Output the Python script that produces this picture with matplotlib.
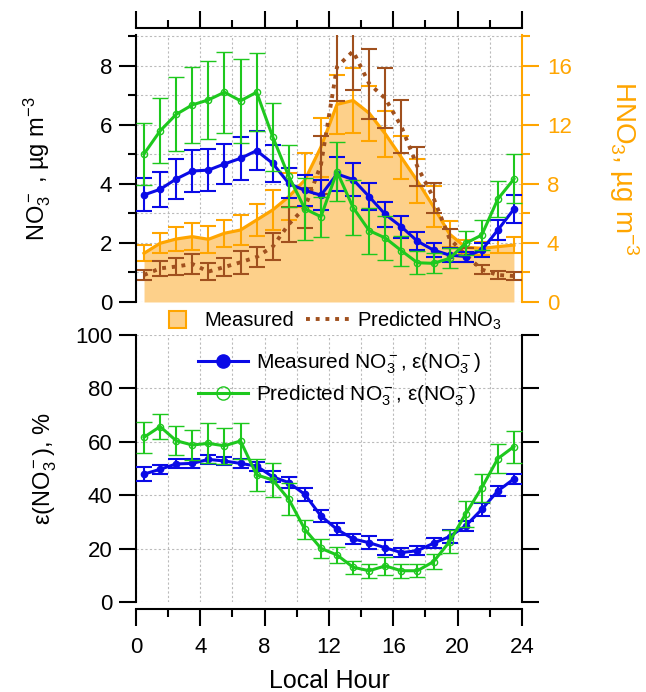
import matplotlib
matplotlib.use('Agg')
import matplotlib.pyplot as plt
import matplotlib.patches as mpatches
from matplotlib.lines import Line2D
from matplotlib.legend_handler import HandlerPatch
from matplotlib.ticker import MultipleLocator

plt.rcParams['font.family'] = ['Liberation Sans', 'DejaVu Sans']
plt.rcParams['mathtext.fontset'] = 'custom'
plt.rcParams['mathtext.rm'] = 'Liberation Sans'
plt.rcParams['mathtext.it'] = 'Liberation Sans'
plt.rcParams['mathtext.default'] = 'regular'

# --- data ---
hours = [0.5, 1.5, 2.5, 3.5, 4.5, 5.5, 6.5, 7.5, 8.5, 9.5, 10.5, 11.5,
         12.5, 13.5, 14.5, 15.5, 16.5, 17.5, 18.5, 19.5, 20.5, 21.5, 22.5, 23.5]

no3_meas = [3.63, 3.82, 4.17, 4.44, 4.47, 4.68, 4.87, 5.13, 4.70, 4.02, 3.78, 3.62,
            4.34, 4.15, 3.57, 2.97, 2.55, 2.06, 1.76, 1.59, 1.54, 1.76, 2.44, 3.15]
no3_meas_err = [0.56, 0.60, 0.67, 0.70, 0.70, 0.69, 0.72, 0.67, 0.62, 0.51, 0.51, 0.51,
                0.58, 0.56, 0.45, 0.42, 0.38, 0.31, 0.23, 0.23, 0.17, 0.23, 0.35, 0.47]

no3_pred = [5.02, 5.80, 6.36, 6.68, 6.85, 7.11, 6.82, 7.11, 5.60, 4.26, 3.16, 2.89,
            4.42, 3.20, 2.42, 2.17, 1.74, 1.33, 1.31, 1.48, 1.99, 2.27, 3.49, 4.17]
no3_pred_err = [1.05, 1.10, 1.25, 1.30, 1.33, 1.37, 1.42, 1.33, 1.16, 1.05, 1.05, 0.68,
                1.00, 0.93, 0.78, 0.73, 0.51, 0.39, 0.34, 0.34, 0.40, 0.51, 0.62, 0.83]

hno3_meas = [3.30, 3.98, 4.27, 4.43, 4.25, 4.66, 4.88, 5.56, 6.24, 7.14, 8.27, 10.5,
             13.4, 13.66, 12.8, 11.4, 9.8, 8.2, 6.46, 4.6, 3.71, 3.64, 3.75, 3.86]
hno3_meas_err = [0.54, 0.68, 0.82, 0.90, 0.90, 0.93, 1.00, 1.10, 1.38, 1.58, 1.80, 2.00,
                 1.98, 2.18, 1.86, 1.58, 1.47, 1.47, 1.40, 0.90, 0.47, 0.45, 0.45, 0.54]

hno3_pred = [1.83, 2.28, 2.40, 2.58, 2.06, 2.37, 2.69, 3.05, 3.75, 5.27, 6.40, 9.3,
             15.95, 17.0, 14.8, 13.8, 11.9, 9.17, 7.05, 4.29, 3.19, 2.20, 1.83, 1.76]
hno3_pred_err = [0.36, 0.50, 0.55, 0.67, 0.56, 0.64, 0.80, 0.71, 0.90, 1.19, 1.36, 1.98,
                 2.30, 2.60, 2.37, 2.03, 1.81, 1.33, 1.04, 0.64, 0.45, 0.28, 0.26, 0.28]

eps_meas = [47.9, 49.7, 51.7, 51.9, 53.4, 52.8, 51.9, 50.9, 46.9, 44.7, 40.3, 32.2,
            27.2, 23.6, 22.2, 20.3, 18.5, 19.2, 22.0, 24.5, 28.5, 34.7, 41.6, 46.1]
eps_meas_err = [2.5, 1.7, 1.7, 1.7, 1.6, 1.6, 1.7, 1.7, 2.0, 2.1, 2.4, 2.3,
                2.2, 1.9, 2.5, 2.8, 1.6, 1.7, 1.9, 2.4, 1.9, 2.5, 1.9, 1.8]

eps_pred = [61.7, 65.7, 60.4, 58.8, 59.4, 58.5, 60.3, 47.6, 45.7, 38.5, 27.2, 20.1,
            17.6, 13.0, 11.7, 13.5, 11.7, 11.7, 15.1, 22.6, 33.0, 42.8, 53.7, 58.2]
eps_pred_err = [5.8, 4.8, 5.4, 5.8, 7.5, 6.8, 6.6, 6.1, 6.5, 6.0, 3.5, 3.6,
                3.1, 2.5, 2.6, 3.4, 2.6, 2.4, 2.7, 4.4, 5.0, 5.3, 5.4, 6.0]

BLUE = '#0A0AE6'
GREEN = '#1EC81E'
ORANGE = '#FFA500'
FILL = '#FDD08A'
BROWN = '#A0501E'
GRID = '#BBBBBB'

fig = plt.figure(figsize=(6.46, 6.92), dpi=100)

ax1r = fig.add_axes([0.2105, 0.5636, 0.5975, 0.3858])
ax1 = fig.add_axes([0.2105, 0.5636, 0.5975, 0.3858], sharex=ax1r)
ax2 = fig.add_axes([0.2105, 0.1301, 0.5975, 0.3858])

ax1.set_zorder(ax1r.get_zorder() + 1)
ax1.patch.set_visible(False)

eb = dict(capsize=6, elinewidth=1.5, capthick=1.5)
DOTS = (0, (1, 1.5))

# --- top panel, HNO3 (right axis, drawn below) ---
ax1r.fill_between(hours, 0, hno3_meas, color=FILL, lw=0, zorder=2)
ax1r.errorbar(hours, hno3_meas, yerr=hno3_meas_err, color=ORANGE, lw=2.3, zorder=3, **eb)
ax1r.errorbar(hours, hno3_pred, yerr=hno3_pred_err, color=BROWN, lw=2.8,
              ls=DOTS, zorder=4, **eb)

# --- top panel, NO3 (left axis) ---
ax1.errorbar(hours, no3_meas, yerr=no3_meas_err, color=BLUE, lw=2.2, marker='o',
             ms=4.5, zorder=5, **eb)
ax1.errorbar(hours, no3_pred, yerr=no3_pred_err, color=GREEN, lw=2.2, marker='o',
             ms=4.5, mfc='none', mew=1, zorder=6, **eb)

ax1.set_xlim(0, 24)
ax1.set_ylim(0, 9.05)
ax1r.set_ylim(0, 18.1)

# grid lives on the bottom axis so it stays behind the fill
ax1r.xaxis.set_major_locator(MultipleLocator(4))
ax1r.xaxis.set_minor_locator(MultipleLocator(2))
ax1r.yaxis.set_major_locator(MultipleLocator(4))
ax1r.yaxis.set_minor_locator(MultipleLocator(2))
ax1r.grid(True, which='both', color=GRID, ls=(0, (2, 2)), lw=0.8, zorder=0)
ax1r.set_axisbelow(True)

ax1.yaxis.set_major_locator(MultipleLocator(2))
ax1.yaxis.set_minor_locator(MultipleLocator(1))

for sp in ['left', 'top', 'bottom']:
    ax1r.spines[sp].set_visible(False)
ax1r.spines['right'].set_color(ORANGE)
ax1r.spines['right'].set_linewidth(1.5)
ax1r.yaxis.tick_right()
ax1r.tick_params(axis='y', which='major', direction='out', length=12, width=1.5,
                 color=ORANGE, labelcolor=ORANGE, labelsize=16, pad=6)
ax1r.tick_params(axis='y', which='minor', direction='out', length=6, width=1.5, color=ORANGE)
ax1r.tick_params(axis='x', which='both', bottom=False, top=False, labelbottom=False)
ax1r.set_ylabel('HNO$_3$, µg m$^{-3}$', color=ORANGE, fontsize=20, rotation=270)
ax1r.yaxis.set_label_coords(1.265, 0.5)
ax1r.yaxis.label.set_va('center')

ax1.spines['right'].set_visible(False)
ax1.spines['bottom'].set_visible(False)
ax1.spines['left'].set_linewidth(1.5)
ax1.spines['top'].set_linewidth(1.5)
ax1.spines['top'].set_position(('outward', 5))
ax1.xaxis.tick_top()
ax1.tick_params(axis='x', which='both', labeltop=False, labelbottom=False, bottom=False,
                direction='out', width=1.5)
ax1.tick_params(axis='x', which='major', length=12)
ax1.tick_params(axis='x', which='minor', length=6)
ax1.tick_params(axis='y', which='major', direction='out', length=12, width=1.5,
                labelsize=16, pad=5)
ax1.tick_params(axis='y', which='minor', direction='out', length=6, width=1.5)
ax1.set_ylabel('NO$_3^-$ , µg m$^{-3}$', fontsize=17)
ax1.yaxis.set_label_coords(-0.215, 0.5)

# --- bottom panel ---
ax2.errorbar(hours, eps_meas, yerr=eps_meas_err, color=BLUE, lw=2.2, marker='o',
             ms=4.5, zorder=5, **eb)
ax2.errorbar(hours, eps_pred, yerr=eps_pred_err, color=GREEN, lw=2.2, marker='o',
             ms=4.5, mfc='none', mew=1, zorder=6, **eb)
ax2.set_xlim(0, 24)
ax2.set_ylim(0, 100)
ax2.xaxis.set_major_locator(MultipleLocator(4))
ax2.xaxis.set_minor_locator(MultipleLocator(2))
ax2.yaxis.set_major_locator(MultipleLocator(20))
ax2.grid(True, which='both', color=GRID, ls=(0, (2, 2)), lw=0.8)
ax2.set_axisbelow(True)

ax2.spines['top'].set_visible(False)
for sp in ['left', 'right', 'bottom']:
    ax2.spines[sp].set_linewidth(1.5)
ax2.spines['bottom'].set_position(('outward', 5))
ax2.tick_params(axis='y', which='major', direction='out', length=12, width=1.5,
                labelsize=16, pad=5, right=True, labelright=False)
ax2.tick_params(axis='x', which='major', direction='out', length=12, width=1.5,
                labelsize=16, pad=8)
ax2.tick_params(axis='x', which='minor', direction='out', length=6, width=1.5)
ax2.set_ylabel('ε(NO$_3^-$), %', fontsize=17)
ax2.yaxis.set_label_coords(-0.2, 0.5)
ax2.set_xlabel('Local Hour', fontsize=18)
ax2.xaxis.set_label_coords(0.5, -0.25)
ax2.xaxis.label.set_va('top')


def square_patch(legend, orig_handle, xdescent, ydescent, width, height, fontsize):
    s = height * 1.2
    return mpatches.Rectangle((-xdescent + (width - s) / 2 + 2, -ydescent + (height - s) / 2), s, s)


h_fill = mpatches.Patch(facecolor=FILL, edgecolor=ORANGE, lw=1.5)
h_pred = Line2D([], [], color=BROWN, lw=2.8, ls=DOTS)
fig.legend([h_fill, h_pred], ['Measured', 'Predicted HNO$_3$'], ncol=2, frameon=False,
           loc='center', bbox_to_anchor=(0.507, 0.537), fontsize=14.5, handlelength=2.2,
           columnspacing=0.6, handletextpad=0.35,
           handler_map={mpatches.Patch: HandlerPatch(patch_func=square_patch)})

h_b = Line2D([], [], color=BLUE, lw=2.2, marker='o', ms=9.5)
h_g = Line2D([], [], color=GREEN, lw=2.2, marker='o', ms=9.5, mfc='none', mew=1)
fig.legend([h_b, h_g], ['Measured NO$_3^-$, ε(NO$_3^-$)', 'Predicted NO$_3^-$, ε(NO$_3^-$)'],
           frameon=False, loc='upper left', bbox_to_anchor=(0.29, 0.507), fontsize=15,
           handlelength=2.4, handletextpad=0.4, labelspacing=0.35, borderpad=0)

fig.savefig('out.png', dpi=100)
